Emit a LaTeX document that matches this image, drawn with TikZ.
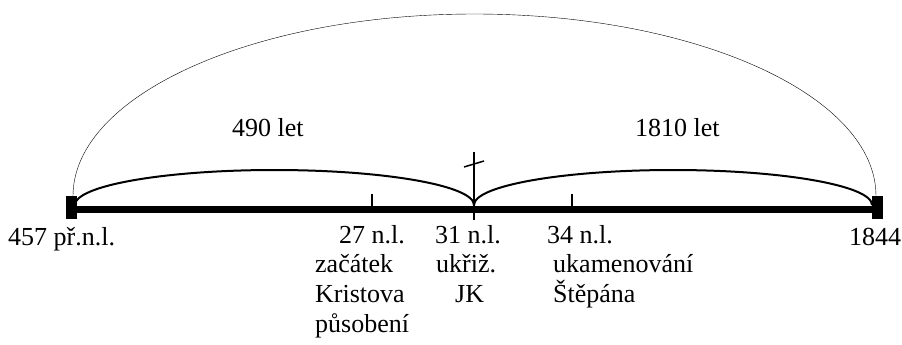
\documentclass[tikz,border=0pt]{standalone}
\usepackage{fontspec}
\setmainfont{Liberation Serif}
\begin{document}
\begin{tikzpicture}[x=1bp,y=-1bp,every node/.style={inner sep=0pt,anchor=base west,font=\fontsize{26bp}{30bp}\selectfont},axis/.style={line width=7bp},bow/.style={line width=2bp},tick/.style={line width=1.5bp},endmark/.style={fill,anchor=center,minimum width=11bp,minimum height=23bp}]
  \useasboundingbox (0,0) rectangle (902,344);
  \coordinate (start) at (72,209);
  \coordinate (stop) at (877,209);
  \coordinate (t27) at (372,209);
  \coordinate (t31) at (474,209);
  \coordinate (t34) at (572,209);
  \draw[axis] (start) -- (stop);
  \node[endmark] (markl) at (71.5,207.5) {};
  \node[endmark] (markr) at (877,207.5) {};
  \draw[tick] (t27) -- (372,194);
  \draw[tick] (t34) -- (572,194);
  \draw[tick] (474,220) -- (474,152);
  \draw[tick] (464,167) -- (484,161);
  \draw[bow] (75,205) arc[start angle=180,end angle=360,x radius=199.5,y radius=35];
  \draw[bow] (474,205) arc[start angle=180,end angle=360,x radius=199,y radius=35];
  \draw (73,196) arc[start angle=180,end angle=360,x radius=401.5,y radius=182];
  \node (let490) at (232,136) {490 let};
  \node (let1810) at (635,136) {1810 let};
  \node (y457) at (8,245) {457 př.n.l.};
  \node (y1844) at (849,245) {1844};
  \node (y27) at (339,243) {27 n.l.};
  \node (zac) at (315,272) {začátek};
  \node (kri) at (315,302) {Kristova};
  \node (pus) at (315,332) {působení};
  \node (y31) at (435,243) {31 n.l.};
  \node (ukr) at (436,272) {ukřiž.};
  \node (jk) at (455,302) {JK};
  \node (y34) at (547,243) {34 n.l.};
  \node (uka) at (553,272) {ukamenování};
  \node (ste) at (553,302) {Štěpána};
\end{tikzpicture}
\end{document}
